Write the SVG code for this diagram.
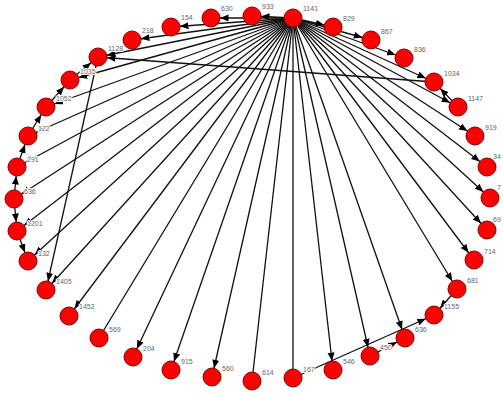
<svg xmlns="http://www.w3.org/2000/svg" width="503" height="394" viewBox="0 0 503 394">
<style>
.e{stroke:#111;stroke-width:1.3;fill:none}
.a{marker-end:url(#ar)}
.n circle{fill:#ff0000;stroke:#8a0000;stroke-width:1}
.n text{font-family:"Liberation Sans",Arial,sans-serif;font-size:7px;fill:#666;stroke:#fff;stroke-width:2;paint-order:stroke}
</style>
<defs>
<marker id="ar" markerUnits="userSpaceOnUse" markerWidth="26" markerHeight="8" refX="17.5" refY="3.5" orient="auto">
<path d="M0,0 L8.5,3.5 L0,7 z" fill="#000"/>
</marker>
</defs>
<rect width="503" height="394" fill="#fff"/>
<g id="edges">
<line class="e a" x1="293" y1="18" x2="252" y2="16"/>
<line class="e a" x1="293" y1="18" x2="211" y2="18"/>
<line class="e a" x1="293" y1="18" x2="171" y2="27"/>
<line class="e a" x1="293" y1="18" x2="132" y2="40"/>
<line class="e a" x1="293" y1="18" x2="98" y2="57"/>
<line class="e a" x1="293" y1="18" x2="70" y2="80"/>
<line class="e a" x1="293" y1="18" x2="46" y2="107"/>
<line class="e a" x1="293" y1="18" x2="28" y2="136"/>
<line class="e a" x1="293" y1="18" x2="17" y2="167"/>
<line class="e a" x1="293" y1="18" x2="14" y2="199"/>
<line class="e a" x1="293" y1="18" x2="17" y2="231"/>
<line class="e a" x1="293" y1="18" x2="28" y2="261"/>
<line class="e a" x1="293" y1="18" x2="46" y2="290"/>
<line class="e a" x1="293" y1="18" x2="69" y2="316"/>
<line class="e" x1="293" y1="18" x2="99" y2="338"/>
<line class="e a" x1="293" y1="18" x2="133" y2="357"/>
<line class="e a" x1="293" y1="18" x2="171" y2="370"/>
<line class="e a" x1="293" y1="18" x2="212" y2="377"/>
<line class="e" x1="293" y1="18" x2="252" y2="381"/>
<line class="e" x1="293" y1="18" x2="293" y2="378"/>
<line class="e a" x1="293" y1="18" x2="333" y2="370"/>
<line class="e a" x1="293" y1="18" x2="370" y2="356"/>
<line class="e a" x1="293" y1="18" x2="405" y2="338"/>
<line class="e a" x1="293" y1="18" x2="457" y2="289"/>
<line class="e a" x1="293" y1="18" x2="474" y2="260"/>
<line class="e a" x1="293" y1="18" x2="487" y2="230"/>
<line class="e a" x1="293" y1="18" x2="490" y2="198"/>
<line class="e a" x1="293" y1="18" x2="487" y2="167"/>
<line class="e a" x1="293" y1="18" x2="475" y2="136"/>
<line class="e a" x1="293" y1="18" x2="458" y2="107"/>
<line class="e a" x1="293" y1="18" x2="434" y2="82"/>
<line class="e a" x1="293" y1="18" x2="404" y2="58"/>
<line class="e a" x1="293" y1="18" x2="371" y2="40"/>
<line class="e a" x1="293" y1="18" x2="333" y2="27"/>
<line class="e a" x1="434" y1="82" x2="98" y2="57"/>
<line class="e a" x1="98" y1="57" x2="46" y2="290"/>
<line class="e a" x1="458" y1="107" x2="434" y2="82"/>
<line class="e a" x1="457" y1="289" x2="434" y2="315"/>
<line class="e a" x1="293" y1="378" x2="434" y2="315"/>
<line class="e a" x1="370" y1="356" x2="405" y2="338"/>
<line class="e a" x1="14" y1="199" x2="17" y2="231"/>
<line class="e a" x1="17" y1="231" x2="28" y2="261"/>
<line class="e a" x1="14" y1="199" x2="17" y2="167"/>
<line class="e a" x1="17" y1="167" x2="28" y2="136"/>
<line class="e a" x1="28" y1="136" x2="46" y2="107"/>
<line class="e a" x1="46" y1="107" x2="70" y2="80"/>
<line class="e a" x1="70" y1="80" x2="98" y2="57"/>
</g>
<g id="n1141" class="n"><circle cx="293" cy="18" r="9"/><text x="303" y="11">1141</text></g>
<g id="n933" class="n"><circle cx="252" cy="16" r="9"/><text x="262" y="9">933</text></g>
<g id="n630" class="n"><circle cx="211" cy="18" r="9"/><text x="221" y="11">630</text></g>
<g id="n154" class="n"><circle cx="171" cy="27" r="9"/><text x="181" y="20">154</text></g>
<g id="n218" class="n"><circle cx="132" cy="40" r="9"/><text x="142" y="33">218</text></g>
<g id="n1128" class="n"><circle cx="98" cy="57" r="9"/><text x="108" y="51">1128</text></g>
<g id="n1035" class="n"><circle cx="70" cy="80" r="9"/><text x="80" y="74">1035</text></g>
<g id="n1052" class="n"><circle cx="46" cy="107" r="9"/><text x="56" y="101">1052</text></g>
<g id="n122" class="n"><circle cx="28" cy="136" r="9"/><text x="38" y="131">122</text></g>
<g id="n291" class="n"><circle cx="17" cy="167" r="9"/><text x="27" y="162">291</text></g>
<g id="n636a" class="n"><circle cx="14" cy="199" r="9"/><text x="24" y="194">636</text></g>
<g id="n1201" class="n"><circle cx="17" cy="231" r="9"/><text x="27" y="226">1201</text></g>
<g id="n132" class="n"><circle cx="28" cy="261" r="9"/><text x="38" y="256">132</text></g>
<g id="n1405" class="n"><circle cx="46" cy="290" r="9"/><text x="56" y="284">1405</text></g>
<g id="n1452" class="n"><circle cx="69" cy="316" r="9"/><text x="79" y="309">1452</text></g>
<g id="n569" class="n"><circle cx="99" cy="338" r="9"/><text x="109" y="332">569</text></g>
<g id="n204" class="n"><circle cx="133" cy="357" r="9"/><text x="143" y="351">204</text></g>
<g id="n915" class="n"><circle cx="171" cy="370" r="9"/><text x="181" y="364">915</text></g>
<g id="n560" class="n"><circle cx="212" cy="377" r="9"/><text x="222" y="371">560</text></g>
<g id="n614" class="n"><circle cx="252" cy="381" r="9"/><text x="262" y="375">614</text></g>
<g id="n167" class="n"><circle cx="293" cy="378" r="9"/><text x="303" y="372">167</text></g>
<g id="n546" class="n"><circle cx="333" cy="370" r="9"/><text x="343" y="364">546</text></g>
<g id="n450" class="n"><circle cx="370" cy="356" r="9"/><text x="380" y="350">450</text></g>
<g id="n636b" class="n"><circle cx="405" cy="338" r="9"/><text x="415" y="332">636</text></g>
<g id="n1155" class="n"><circle cx="434" cy="315" r="9"/><text x="444" y="309">1155</text></g>
<g id="n681" class="n"><circle cx="457" cy="289" r="9"/><text x="467" y="283">681</text></g>
<g id="n714" class="n"><circle cx="474" cy="260" r="9"/><text x="484" y="254">714</text></g>
<g id="n69" class="n"><circle cx="487" cy="230" r="9"/><text x="493" y="222">69</text></g>
<g id="n7" class="n"><circle cx="490" cy="198" r="9"/><text x="497" y="190">7</text></g>
<g id="n34" class="n"><circle cx="487" cy="167" r="9"/><text x="493" y="159">34</text></g>
<g id="n919" class="n"><circle cx="475" cy="136" r="9"/><text x="485" y="130">919</text></g>
<g id="n1147" class="n"><circle cx="458" cy="107" r="9"/><text x="468" y="101">1147</text></g>
<g id="n1034" class="n"><circle cx="434" cy="82" r="9"/><text x="444" y="76">1034</text></g>
<g id="n836" class="n"><circle cx="404" cy="58" r="9"/><text x="414" y="52">836</text></g>
<g id="n867" class="n"><circle cx="371" cy="40" r="9"/><text x="381" y="34">867</text></g>
<g id="n829" class="n"><circle cx="333" cy="27" r="9"/><text x="343" y="21">829</text></g>
</svg>
